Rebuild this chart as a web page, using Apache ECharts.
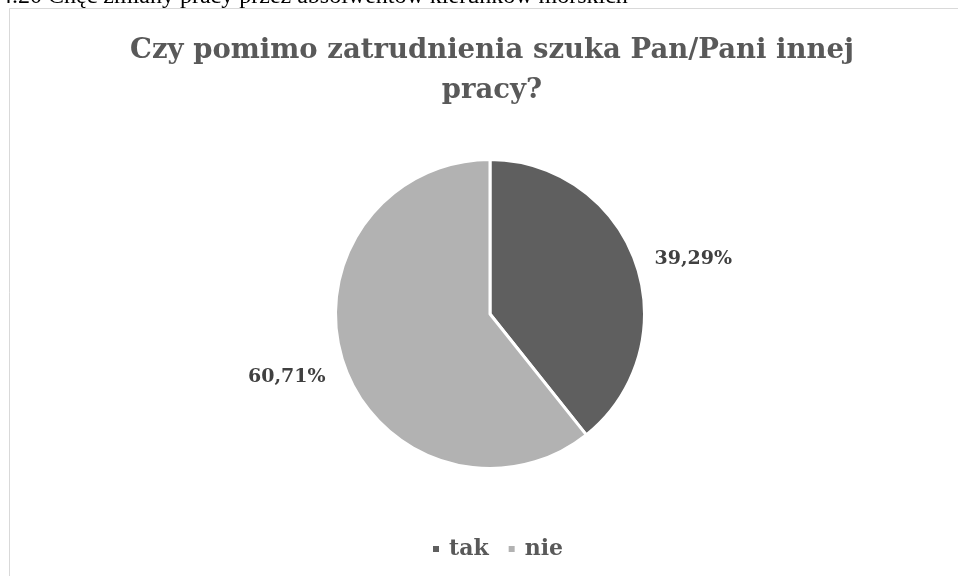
<!DOCTYPE html>
<html>
<head>
<meta charset="utf-8">
<script src="https://cdn.jsdelivr.net/npm/echarts@6/dist/echarts.min.js"></script>
<style>
html,body{margin:0;padding:0;background:#fff;}
#chart{width:958px;height:576px;}
</style>
</head>
<body>
<div id="chart"></div>
<script>
const captionText = '4.20 Chęć zmiany pracy przez absolwentów kierunków morskich';
const titleText = 'Czy pomimo zatrudnienia szuka Pan/Pani innej\npracy?';
const categories = ['tak', 'nie'];
const values = [39.29, 60.71];
const colors = ['#5f5f5f', '#b2b2b2'];

const chart = echarts.init(document.getElementById('chart'), null, {renderer: 'canvas'});
const serif = "'DejaVu Serif', serif";
chart.setOption({
  backgroundColor: '#ffffff',
  animation: false,
  color: colors,
  graphic: [
    {type: 'rect', shape: {x: 9.5, y: 8.5, width: 1000, height: 700},
     style: {fill: 'none', stroke: '#d9d9d9', lineWidth: 1}, silent: true, z: -1},
    {type: 'text', x: 0, y: -3,
     style: {text: captionText, font: "24px 'Liberation Serif', serif", fill: '#000', verticalAlign: 'middle', textAlign: 'left'}}
  ],
  title: {
    text: titleText,
    left: 487,
    top: 26,
    textAlign: 'center',
    textStyle: {fontFamily: serif, fontSize: 27.5, fontWeight: 'bold', color: '#595959', lineHeight: 40, align: 'center'}
  },
  legend: {
    data: categories,
    bottom: 11,
    left: 426,
    icon: 'rect',
    itemWidth: 8,
    itemHeight: 8,
    itemGap: 18,
    textStyle: {fontFamily: serif, fontSize: 22, fontWeight: 'bold', color: '#595959', padding: [0, 0, 0, 4]}
  },
  series: [{
    type: 'pie',
    center: [490, 314],
    radius: 154.5,
    startAngle: 90,
    clockwise: true,
    itemStyle: {borderColor: '#ffffff', borderWidth: 3},
    label: {
      show: true,
      position: 'outside',
      fontFamily: serif,
      fontSize: 19,
      fontWeight: 'bold',
      color: '#404040',
      formatter: p => p.value.toFixed(2).replace('.', ',') + '%'
    },
    labelLine: {show: false, length: 6, length2: 8},
    labelLayout: p => (p.dataIndex === 1 ? {dy: 10} : {dy: -2}),
    data: categories.map((c, i) => ({name: c, value: values[i]}))
  }]
});
</script>
</body>
</html>
